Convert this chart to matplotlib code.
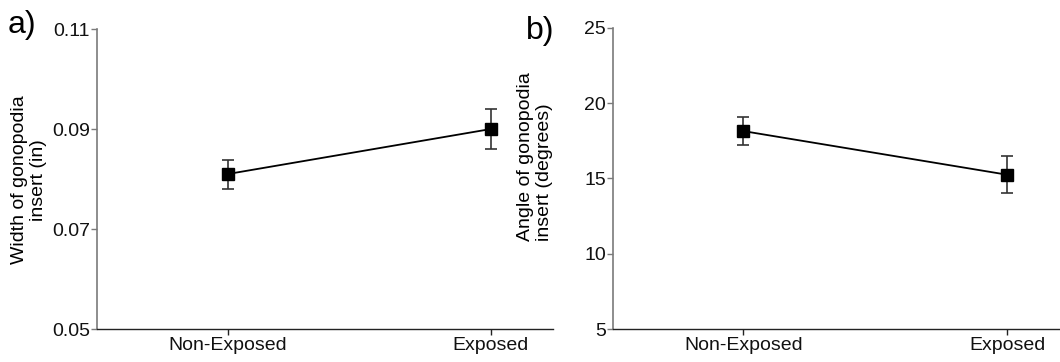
import matplotlib
matplotlib.use("Agg")
import matplotlib.pyplot as plt

plt.rcParams['font.family'] = ['Liberation Sans', 'DejaVu Sans']

groups = ["Non-Exposed", "Exposed"]

width_mean = [0.081, 0.090]
width_err = [0.0029, 0.0040]

angle_mean = [18.15, 15.25]
angle_err = [0.93, 1.24]

width_ticks = [0.05, 0.07, 0.09, 0.11]
width_ticklabels = ["0.05", "0.07", "0.09", "0.11"]
angle_ticks = [5, 10, 15, 20, 25]

W, H = 1060, 362
fig = plt.figure(figsize=(W / 100, H / 100), dpi=100)


def px_axes(x0, x1, ytop, ybot):
    return fig.add_axes([x0 / W, 1 - ybot / H, (x1 - x0) / W, (ybot - ytop) / H])


ax1 = px_axes(97, 553, 29, 329)
ax2 = px_axes(613, 1060, 28, 329)

spine_gray = "#7a7a7a"
fs = 14

for ax, means, errs, ylim, xlim in [
    (ax1, width_mean, width_err, (0.05, 0.11), (-0.498, 1.236)),
    (ax2, angle_mean, angle_err, (5, 25), (-0.494, 1.20)),
]:
    x = list(range(len(groups)))
    ax.plot(x, means, color="black", lw=1.3, zorder=2)
    ax.errorbar(x, means, yerr=errs, fmt="none", ecolor="#333333",
                elinewidth=1.2, capsize=4, capthick=1.2, zorder=3)
    ax.plot(x, means, ls="none", marker="s", ms=9, color="black", zorder=4)
    ax.set_xlim(*xlim)
    ax.set_ylim(*ylim)
    ax.set_xticks(x)
    ax.set_xticklabels(groups, fontsize=fs)
    ax.spines["top"].set_visible(False)
    ax.spines["right"].set_visible(False)
    ax.spines["left"].set_color(spine_gray)
    ax.spines["left"].set_linewidth(1.2)
    ax.spines["bottom"].set_color("#222222")
    ax.spines["bottom"].set_linewidth(1.0)
    ax.tick_params(axis="y", length=4, width=1.0, color=spine_gray,
                   labelsize=fs, pad=1)
    ax.tick_params(axis="x", length=4, width=1.0, color="#222222",
                   labelsize=fs, pad=2)
    for t in ax.get_xticklabels() + ax.get_yticklabels():
        t.set_color("#111111")

ax1.set_yticks(width_ticks)
ax1.set_yticklabels(width_ticklabels)
ax2.set_yticks(angle_ticks)

# axis titles
fig.text(29 / W, 1 - 180 / H, "Width of gonopodia\ninsert (in)", rotation=90,
         ha="center", va="center", multialignment="center", fontsize=fs,
         linespacing=1.15)
fig.text(535 / W, 1 - 241 / H, "Angle of gonopodia\ninsert (degrees)", rotation=90,
         ha="center", va="bottom", multialignment="left", fontsize=fs,
         linespacing=1.15)

# panel letters
fig.text(8 / W, 1 - 33 / H, "a)", fontsize=23, ha="left", va="baseline")
fig.text(526 / W, 1 - 39 / H, "b)", fontsize=23, ha="left", va="baseline")

fig.savefig("out.png", dpi=100)
